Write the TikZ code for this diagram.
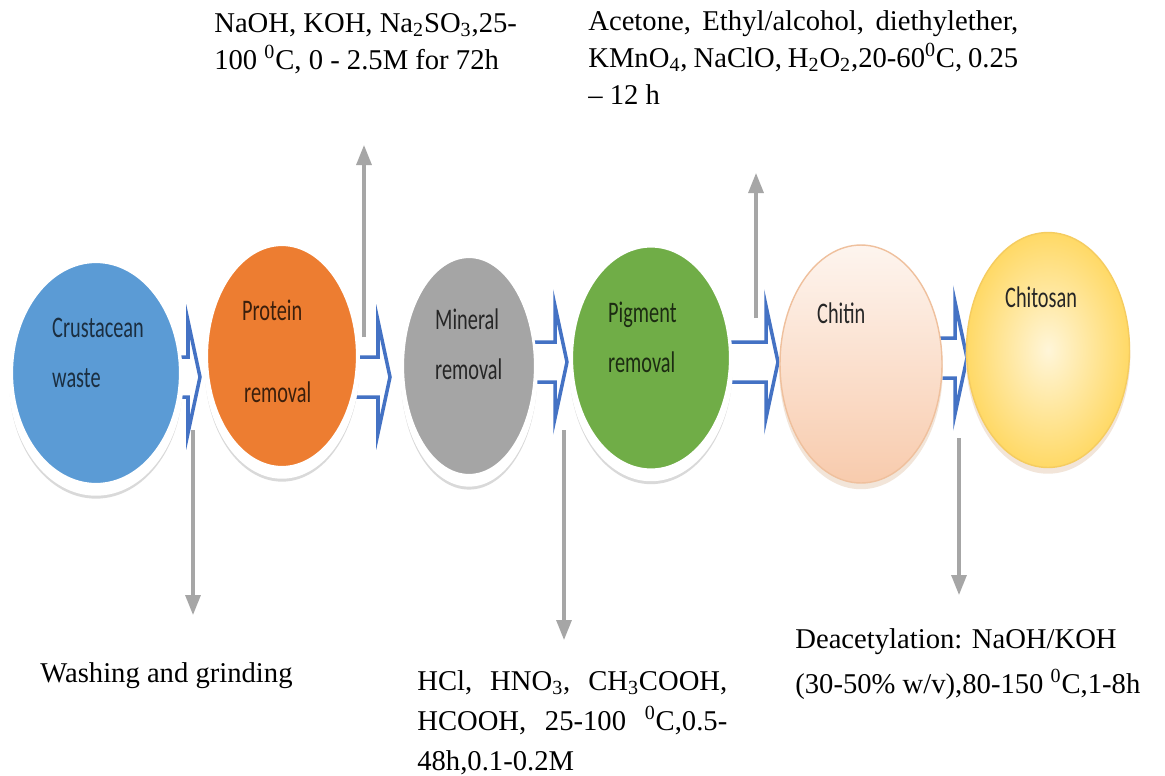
\documentclass[tikz,border=0pt]{standalone}
\usepackage{fontspec}
\setmainfont{Liberation Serif}
\newfontfamily\discfont[FakeStretch=0.68]{Carlito}
\usepackage{xcolor}
\usetikzlibrary{shapes.geometric, arrows.meta, shadows}

\definecolor{wasteblue}{HTML}{5B9BD5}
\definecolor{protorange}{HTML}{ED7D31}
\definecolor{mingray}{HTML}{A5A5A5}
\definecolor{piggreen}{HTML}{70AD47}
\definecolor{chitinpeach}{HTML}{F8CBAD}
\definecolor{chitosanyellow}{HTML}{FFD966}
\definecolor{flowblue}{HTML}{4472C4}
\definecolor{sidegray}{HTML}{A6A6A6}

% hollow block arrow: shaft start, head back, centre height
\newcommand{\flowarrow}[3]{%
  \draw[flowline] (#1,#3-20) -- (#2,#3-20) -- (#2,#3-56) -- (#2+12,#3)
    -- (#2,#3+56) -- (#2,#3+20) -- (#1,#3+20) -- cycle;}

\tikzset{
  disc/.style={ellipse, inner sep=0pt, line width=1.2pt},
  ringdisc/.style={draw=white,
    general shadow={shadow yshift=-0.22cm, shadow scale=1.03, fill=black!15},
    general shadow={shadow yshift=-0.14cm, shadow scale=1.04, fill=white}},
  softdisc/.style={line width=0.8pt,
    general shadow={shadow yshift=-0.1cm, shadow scale=1.01, fill=brown!20}},
  flowline/.style={draw=flowblue, fill=white, line width=2pt},
  sidearrow/.style={draw=sidegray, line width=1.8pt, -{Triangle[length=0.4cm, width=0.3cm]}},
  disctext/.style={anchor=base west, font=\discfont\fontsize{17}{20}\selectfont},
  notes/.style={inner sep=0pt, font=\fontsize{16.3}{21}\selectfont}
}

\begin{document}
\begin{tikzpicture}[x=0.02cm, y=-0.02cm]
    \fill[white] (0,0) rectangle (1165,775);
    \useasboundingbox (0,0) rectangle (1165,775);

    % block arrows behind the discs
    \flowarrow{150}{188}{377}
    \flowarrow{330}{378}{377}
    \flowarrow{510}{555}{362}
    \flowarrow{700}{766}{362}
    \flowarrow{920}{955}{358}

    \node[disc, ringdisc, fill=wasteblue, minimum width=3.36cm, minimum height=4.44cm] (waste) at (96,373) {};
    \node[disc, ringdisc, fill=protorange, minimum width=3cm, minimum height=4.44cm] (protein) at (282,356) {};
    \node[disc, ringdisc, fill=mingray, minimum width=2.64cm, minimum height=4.36cm] (mineral) at (469,366) {};
    \node[disc, ringdisc, fill=piggreen, minimum width=3.16cm, minimum height=4.46cm] (pigment) at (651,358) {};
    \node[disc, softdisc, draw=chitinpeach!85!brown, top color=chitinpeach!20, bottom color=chitinpeach,
          minimum width=3.24cm, minimum height=4.76cm] (chitin) at (861,364) {};
    \node[disc, softdisc, draw=chitosanyellow!85!brown, inner color=chitosanyellow!25, outer color=chitosanyellow,
          minimum width=3.26cm, minimum height=4.7cm] (chitosan) at (1048,350) {};

    \node[disctext, color=wasteblue!30!black] at (46,337) {Crustacean};
    \node[disctext, color=wasteblue!30!black] at (46,387) {waste};
    \node[disctext, color=protorange!25!black] at (236,320) {Protein};
    \node[disctext, color=protorange!25!black] at (238,402) {removal};
    \node[disctext, color=black!85] at (429,329) {Mineral};
    \node[disctext, color=black!85] at (429,379) {removal};
    \node[disctext, color=piggreen!25!black] at (602,322) {Pigment};
    \node[disctext, color=piggreen!25!black] at (602,372) {removal};
    \node[disctext, color=black!85] at (811,323) {Chitin};
    \node[disctext, color=black!85] at (999,307) {Chitosan};

    % side streams
    \coordinate (wash top) at (193,430);
    \coordinate (wash tip) at (193,615);
    \coordinate (prot top) at (364,337);
    \coordinate (prot tip) at (364,145);
    \coordinate (min top) at (564,430);
    \coordinate (min tip) at (564,640);
    \coordinate (pig top) at (756,318);
    \coordinate (pig tip) at (756,173);
    \coordinate (deac top) at (959,438);
    \coordinate (deac tip) at (959,595);
    \draw[sidearrow] (wash top) -- (wash tip);
    \draw[sidearrow] (prot top) -- (prot tip);
    \draw[sidearrow] (min top) -- (min tip);
    \draw[sidearrow] (pig top) -- (pig tip);
    \draw[sidearrow] (deac top) -- (deac tip);

    \node[notes, anchor=north west, align=left] (naoh) at (214,13)
        {NaOH, KOH, Na\textsubscript{2}SO\textsubscript{3},25-\\100 \textsuperscript{0}C, 0 - 2.5M for 72h};
    \node[notes, anchor=north west, text width=8.6cm, align=justify] (acetone) at (588,10)
        {Acetone, Ethyl/alcohol, diethylether,\linebreak KMnO\textsubscript{4}, NaClO, H\textsubscript{2}O\textsubscript{2},20-60\textsuperscript{0}C, 0.25\linebreak – 12 h};
    \node[notes, anchor=base west] (wash) at (40,682) {Washing and grinding};
    \node[notes, anchor=north west, text width=6.2cm, align=justify, font=\fontsize{16.3}{22.7}\selectfont] (acids) at (417,670)
        {HCl, HNO\textsubscript{3}, CH\textsubscript{3}COOH,\linebreak HCOOH, 25-100 \textsuperscript{0}C,0.5-\linebreak 48h,0.1-0.2M};
    \node[notes, anchor=north west, align=left] (deacet) at (795,628)
        {Deacetylation: NaOH/KOH\\[0.16cm](30-50\% w/v),80-150 \textsuperscript{0}C,1-8h};
\end{tikzpicture}
\end{document}
